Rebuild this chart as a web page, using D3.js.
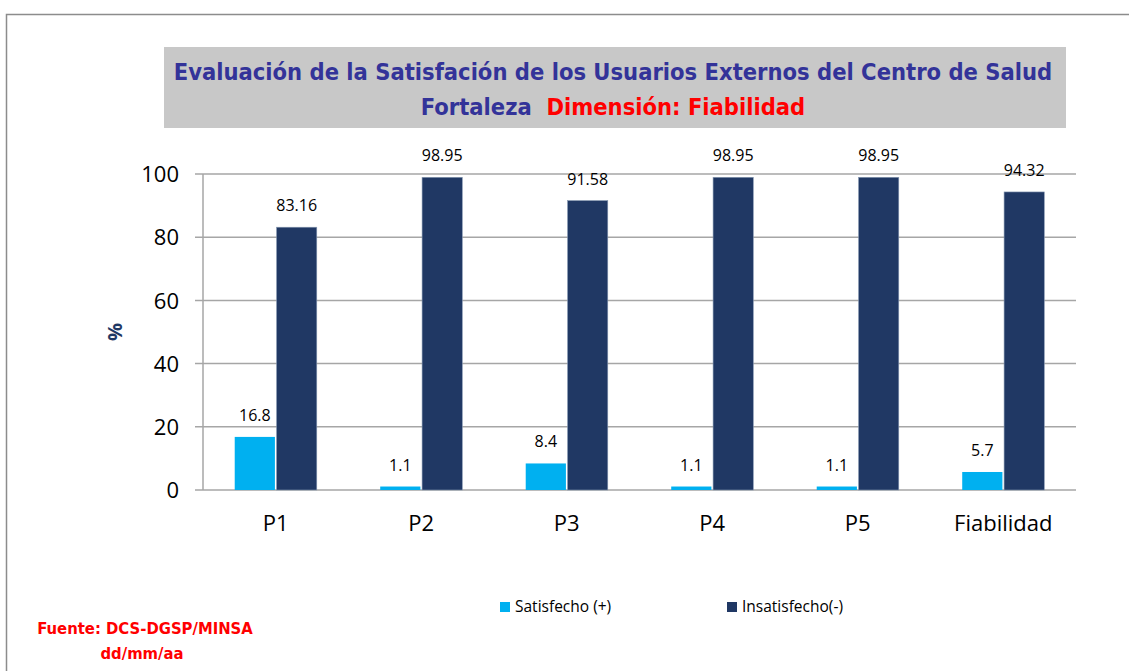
<html lang="es">
<head>
<meta charset="utf-8">
<title>Satisfacción - Fiabilidad</title>
<script src="https://cdn.jsdelivr.net/npm/d3@7"></script>
<style>
  body { margin: 0; background: #fff; }
  text { font-family: "Open Sans", sans-serif; }
</style>
</head>
<body>
<script>
var categorias = ["P1", "P2", "P3", "P4", "P5", "Fiabilidad"];
var series = ["Satisfecho (+)", "Insatisfecho(-)"];
var satisfecho = [16.8, 1.1, 8.4, 1.1, 1.1, 5.7];
var insatisfecho = [83.16, 98.95, 91.58, 98.95, 98.95, 94.32];
var yTicks = [0, 20, 40, 60, 80, 100];
var colores = ["#00b0f0", "#203864"];

var w = 1129, h = 671;
var svg = d3.select("body").append("svg").attr("width", w).attr("height", h);

// marco exterior
svg.append("rect").attr("x", 6.5).attr("y", 14.5).attr("width", w + 10).attr("height", h + 10)
  .attr("fill", "none").attr("stroke", "#8c8c8c").attr("stroke-width", 1.5);

// titulo
var fuenteTitulo = "'Liberation Sans Narrow', 'DejaVu Sans Condensed', sans-serif";
svg.append("rect").attr("x", 164).attr("y", 47).attr("width", 902).attr("height", 81).attr("fill", "#c8c8c8");
svg.append("text").attr("x", 613).attr("y", 80).attr("text-anchor", "middle")
  .style("font-family", fuenteTitulo)
  .style("font-weight", "bold").style("font-size", "23.5px").attr("fill", "#333399")
  .text("Evaluación de la Satisfación de los Usuarios Externos del Centro de Salud");
var t2 = svg.append("text").attr("x", 613).attr("y", 115).attr("text-anchor", "middle")
  .style("font-family", fuenteTitulo)
  .style("font-weight", "bold").style("font-size", "23.5px");
t2.append("tspan").attr("fill", "#333399").text("Fortaleza\u00a0 ");
t2.append("tspan").attr("fill", "#ff0000").text("Dimensión: Fiabilidad");

var mLeft = 203, mRight = 1076, mTop = 174, mBottom = 490;

var x0 = d3.scaleBand().domain(categorias).range([mLeft, mRight])
  .paddingInner(0.436).paddingOuter(0.218);
var x1 = d3.scaleBand().domain(series).range([0, x0.bandwidth()]).paddingInner(0.04);
var y = d3.scaleLinear().domain([0, 100]).range([mBottom, mTop]);

// grilla
svg.append("g").selectAll("line").data(yTicks).enter().append("line")
  .attr("x1", mLeft - 8).attr("x2", mRight)
  .attr("y1", function(d){ return y(d); }).attr("y2", function(d){ return y(d); })
  .attr("stroke", "#a6a6a6").attr("stroke-width", 1.5);
svg.append("line").attr("x1", mLeft).attr("x2", mLeft).attr("y1", mTop).attr("y2", mBottom)
  .attr("stroke", "#a6a6a6").attr("stroke-width", 1.5);

var yAxis = svg.append("g").attr("transform", "translate(" + mLeft + ",0)")
  .call(d3.axisLeft(y).tickValues(yTicks).tickSize(0).tickPadding(24));
yAxis.select(".domain").remove();
yAxis.selectAll("text").style("font-size", "22px").attr("fill", "#000").attr("dy", "0.35em");

var xAxis = svg.append("g").attr("transform", "translate(0," + mBottom + ")")
  .call(d3.axisBottom(x0).tickSize(0).tickPadding(25));
xAxis.select(".domain").remove();
xAxis.selectAll("text").style("font-size", "22px").attr("fill", "#000");

svg.append("text").attr("transform", "translate(122,332) rotate(-90)").attr("text-anchor", "middle")
  .style("font-size", "20px").style("font-weight", "bold").attr("fill", "#1f3864").text("%");

var datos = categorias.map(function(c, i){
  return { cat: c, vals: [ {s: series[0], v: satisfecho[i]}, {s: series[1], v: insatisfecho[i]} ] };
});

var grupos = svg.selectAll(".grupo").data(datos).enter().append("g")
  .attr("transform", function(d){ return "translate(" + x0(d.cat) + ",0)"; });

grupos.selectAll("rect").data(function(d){ return d.vals; }).enter().append("rect")
  .attr("x", function(d){ return x1(d.s); })
  .attr("y", function(d){ return y(d.v); })
  .attr("width", x1.bandwidth())
  .attr("height", function(d){ return mBottom - y(d.v); })
  .attr("fill", function(d, i){ return colores[i]; })
  .attr("stroke", function(d, i){ return i == 1 ? "#8496b0" : "none"; })
  .attr("stroke-width", 0.6);

grupos.selectAll(".lbl").data(function(d){ return d.vals; }).enter().append("text")
  .attr("x", function(d){ return x1(d.s) + x1.bandwidth() / 2; })
  .attr("y", function(d){ return y(d.v) - 16; })
  .attr("text-anchor", "middle").style("font-size", "16px").attr("fill", "#000")
  .text(function(d){ return d.v; });

// leyenda
var leg = svg.selectAll(".leg").data(series).enter().append("g")
  .attr("transform", function(d, i){ return "translate(" + (500 + i * 227) + ",602)"; });
leg.append("rect").attr("width", 10).attr("height", 10).attr("fill", function(d, i){ return colores[i]; });
leg.append("text").attr("x", 15).attr("y", 5).attr("dy", "0.35em")
  .style("font-size", "15.5px").attr("fill", "#000").text(function(d){ return d; });

// fuente
svg.append("text").attr("x", 145).attr("y", 634).attr("text-anchor", "middle")
  .style("font-family", fuenteTitulo)
  .style("font-weight", "bold").style("font-size", "16.5px").attr("fill", "#ff0000")
  .text("Fuente: DCS-DGSP/MINSA");
svg.append("text").attr("x", 142).attr("y", 659).attr("text-anchor", "middle")
  .style("font-family", fuenteTitulo)
  .style("font-weight", "bold").style("font-size", "16.5px").attr("fill", "#ff0000")
  .text("dd/mm/aa");
</script>
</body>
</html>
